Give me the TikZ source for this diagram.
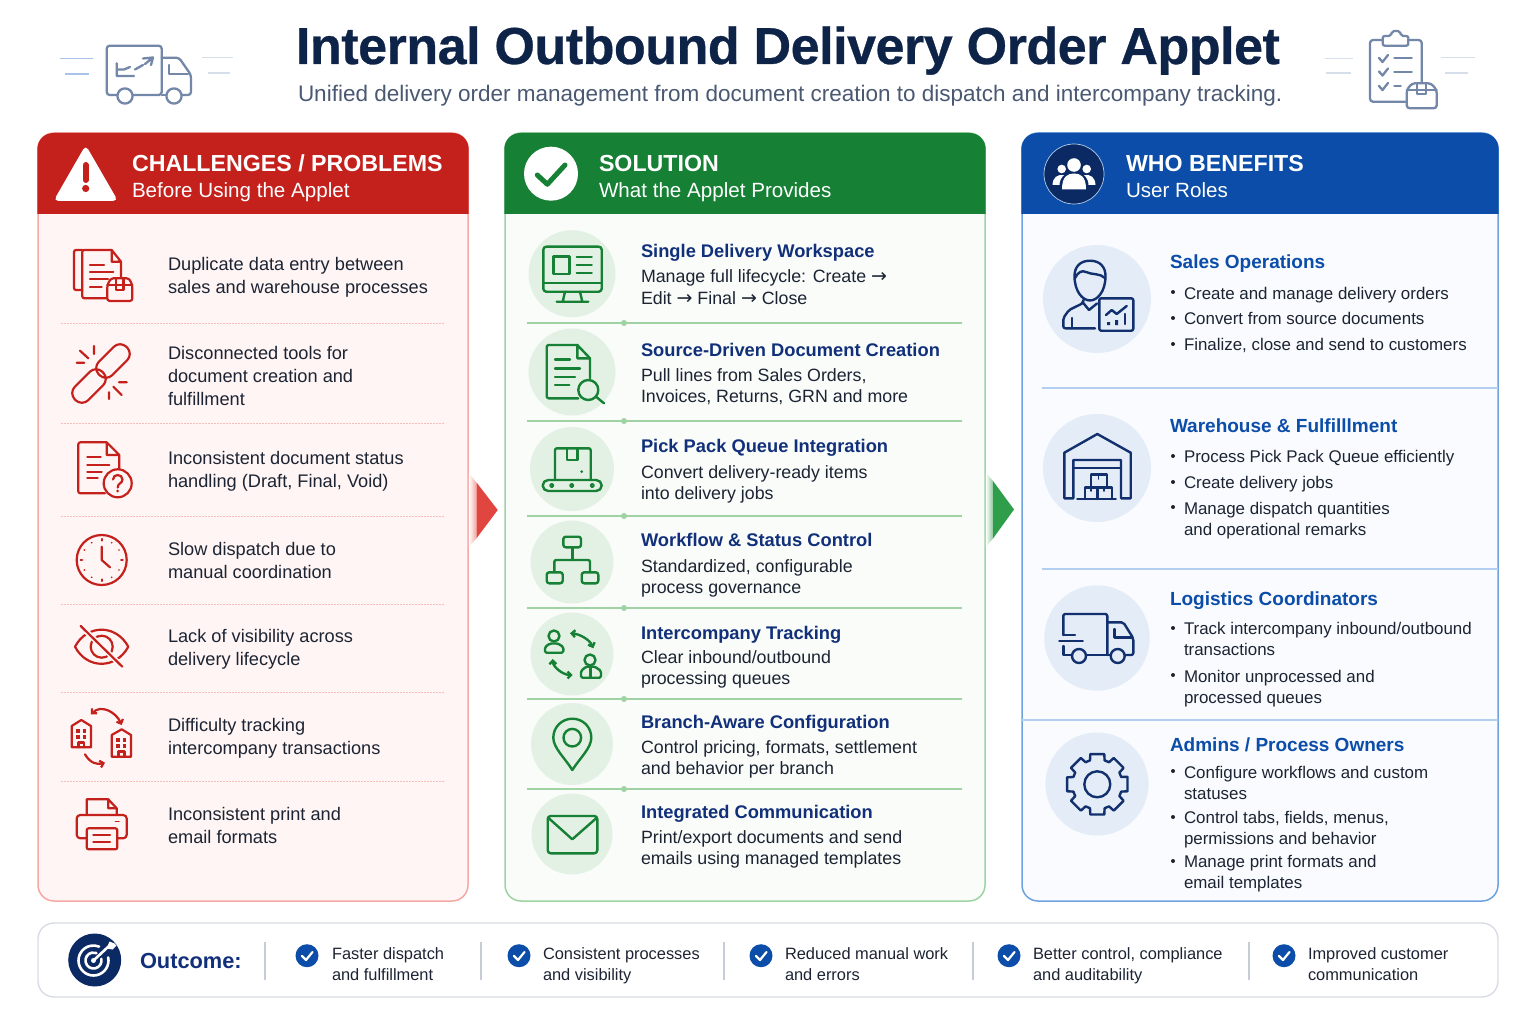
\documentclass[tikz,border=0pt]{standalone}
\usepackage{fontspec}
\setmainfont{Liberation Sans}
\newfontfamily\titlef[LetterSpace=-0.9,BoldFeatures={FakeBold=0.6}]{Liberation Sans}
\newfontfamily\arrowf{DejaVu Sans}
\usetikzlibrary{arrows.meta,calc}
\definecolor{cred}{HTML}{C4201C}
\definecolor{credfill}{HTML}{FFF5F4}
\definecolor{credline}{HTML}{F4A9A5}
\definecolor{credrule}{HTML}{F5BDB9}
\definecolor{cgreen}{HTML}{168035}
\definecolor{cgreenfill}{HTML}{F9FCF9}
\definecolor{cgreenline}{HTML}{9FD3A4}
\definecolor{cgreencirc}{HTML}{E3F1E4}
\definecolor{cblue}{HTML}{0B4DA8}
\definecolor{cbluefill}{HTML}{F9FBFE}
\definecolor{cblueline}{HTML}{6FA3E0}
\definecolor{cbluerule}{HTML}{B3CEF0}
\definecolor{cbluecirc}{HTML}{E3ECF7}
\definecolor{cnavy}{HTML}{0E2348}
\definecolor{cnavyicon}{HTML}{12306E}
\definecolor{cnavycirc}{HTML}{0B2A63}
\definecolor{chead}{HTML}{12307A}
\definecolor{cbody}{HTML}{1C2433}
\definecolor{csub}{HTML}{4A5872}
\definecolor{cgrayicon}{HTML}{7387A8}
\definecolor{cpale}{HTML}{D6DEEA}
\definecolor{cpaleblue}{HTML}{A9C4E8}
\definecolor{cbar}{HTML}{D8DCE4}
\definecolor{csep}{HTML}{C7CDD8}
\definecolor{cfadered}{HTML}{F2A09B}
\definecolor{cfadegreen}{HTML}{8CC69A}
\definecolor{cmainred}{HTML}{E0453F}
\definecolor{cmaingreen}{HTML}{2E9E4A}
\newcommand\fsz[2]{\fontsize{#1}{#2}\selectfont}
\newcommand\putxt[5]{\node[#1] (#2) at (#3,{#4-24}) {\rule{0pt}{24pt}#5};}
\newcommand\arw{{\arrowf\fontsize{19}{19}\selectfont →}}
\tikzset{
  tx/.style={anchor=north west,inner sep=0pt,outer sep=0pt,align=left},
  titlet/.style={anchor=base west,inner sep=0pt,outer sep=0pt,text=cnavy,font=\titlef\fontsize{52}{58}\selectfont\bfseries},
  subt/.style={anchor=base west,inner sep=0pt,outer sep=0pt,text=csub,font=\fsz{22.5}{27}},
  hdbig/.style={tx,text=white,font=\fontsize{23.2}{28}\selectfont\bfseries},
  hdsub/.style={tx,text=white,font=\fsz{20.6}{25}},
  lbody/.style={tx,text=cbody,font=\fsz{18.2}{23}},
  mhead/.style={tx,text=chead,font=\fontsize{18.3}{23}\selectfont\bfseries},
  mbody/.style={tx,text=cbody,font=\fsz{17.8}{21.5}},
  rhead/.style={tx,text=cblue,font=\fontsize{19}{24}\selectfont\bfseries},
  rbody/.style={tx,text=cbody,font=\fsz{16.9}{21}},
  obody/.style={tx,text=cbody,font=\fsz{16.4}{21.5}},
  ohead/.style={tx,text=chead,font=\fontsize{21.8}{26}\selectfont\bfseries},
  ric/.style={draw=cred,line width=2.2pt,line cap=round,line join=round},
  gic/.style={draw=cgreen,line width=2.4pt,line cap=round,line join=round},
  bic/.style={draw=cnavyicon,line width=2.4pt,line cap=round,line join=round},
  gyic/.style={draw=cgrayicon,line width=2.3pt,line cap=round,line join=round},
  redrule/.style={draw=credrule,line width=1pt,dash pattern=on 2pt off 1pt},
  greenrule/.style={draw=cgreenline,line width=1.1pt},
  bluerule/.style={draw=cbluerule,line width=1.2pt},
  greendot/.style={fill=cgreenline},
  gcirc/.style={fill=cgreencirc},
  bcirc/.style={fill=cbluecirc},
  barb/.style={-{Straight Barb[length=3.5pt,width=7pt]}},
  dbarb/.style={{Straight Barb[length=3.5pt,width=7pt]}-{Straight Barb[length=3.5pt,width=7pt]}},
  bull/.style={fill=cbody},
  sepl/.style={draw=csep,line width=1.4pt},
  ocheck/.style={fill=cblue},
  ochk/.style={draw=white,line width=2.2pt,line cap=round,line join=round}
}
\begin{document}
\begin{tikzpicture}[x=1pt,y=-1pt]
\useasboundingbox (0,0) rectangle (1536,1024);
\fill[white] (0,0) rectangle (1536,1024);

% ---------- title
\node[titlet] (title) at (296,64) {Internal Outbound Delivery Order Applet};
\node[subt] (subtitle) at (298,102) {Unified delivery order management from document creation to dispatch and intercompany tracking.};

% truck top left
\draw[draw=cpaleblue,line width=1.6pt] (60,58.7) -- (92.7,58.7) (64.7,74) -- (89.3,74);
\draw[draw=cpale,line width=1.6pt] (201.7,57.7) -- (232.7,57.7) (207.7,73) -- (230,73);
\draw[gyic,rounded corners=3pt] (117,95) -- (106.7,95) -- (106.7,45.7) -- (161.7,45.7) -- (161.7,95) -- (133,95);
\draw[gyic,rounded corners=3pt] (161.7,57.7) -- (179,57.7) -- (191,75) -- (191,95) -- (182,95);
\draw[gyic] (161.7,95) -- (166,95);
\draw[gyic] (125,96) circle[radius=7.6] (174,96) circle[radius=7.6];
\draw[gyic] (169.3,65) -- (169.3,74) -- (188,74);
\draw[gyic] (116.7,63.3) -- (116.7,76) -- (134,76) (116.7,69.5) -- (124,69.5) -- (130,67);
\draw[gyic] (135,69.5) -- (143,65) (143,58.5) -- (153,57.5) -- (151,65) (153,57.5) -- (145,64);

% clipboard top right
\draw[draw=cpale,line width=1.6pt] (1325,58.7) -- (1352.7,58.7) (1326,73.3) -- (1351,73.3) (1440.7,57.7) -- (1474.7,57.7) (1445,73.3) -- (1467.7,73.3);
\draw[gyic,rounded corners=3pt] (1382.7,40) -- (1370,40) -- (1370,101.7) -- (1406,101.7);
\draw[gyic,rounded corners=3pt] (1408.3,40) -- (1421.7,40) -- (1421.7,83);
\draw[gyic,rounded corners=2pt] (1382.7,45.7) -- (1382.7,36) -- (1391,36) -- (1392,31) -- (1400,31) -- (1401,36) -- (1408.3,36) -- (1408.3,45.7) -- cycle;
\draw[gyic] (1379,58) -- (1382.5,62) -- (1388,55) (1379,71.5) -- (1382.5,75.5) -- (1388,68.5) (1379,86) -- (1382.5,90) -- (1388,83);
\draw[gyic] (1394.3,58.3) -- (1411.7,58.3) (1394.3,71.7) -- (1411.7,71.7) (1394.3,86) -- (1400.7,86);
\draw[gyic,fill=white,rounded corners=3pt] (1406.7,90) -- (1412,83.3) -- (1431,83.3) -- (1436.7,90) -- (1436.7,108.3) -- (1406.7,108.3) -- cycle;
\draw[gyic] (1406.7,90) -- (1436.7,90) (1417,84) -- (1417,94) -- (1426,94) -- (1426,84);

% ---------- panels
\draw[draw=credline,fill=credfill,line width=1.5pt,rounded corners=16pt] (38,133) rectangle (468,901);
\fill[cred,rounded corners=16pt] (37.3,214) |- (253,133) -| (468.7,214);
\draw[draw=cgreenline,fill=cgreenfill,line width=1.5pt,rounded corners=16pt] (505,133) rectangle (985,901);
\fill[cgreen,rounded corners=16pt] (504.3,214) |- (745,133) -| (985.7,214);
\draw[draw=cblueline,fill=cbluefill,line width=1.5pt,rounded corners=16pt] (1022,133) rectangle (1498,901);
\fill[cblue,rounded corners=16pt] (1021.3,214) |- (1260,133) -| (1498.7,214);

% arrows between panels
\shade[left color=white,right color=cfadered] (468.8,473) -- (476.7,483) -- (476.7,538) -- (468.8,547) -- cycle;
\fill[cmainred] (476.7,482.7) -- (497.7,510) -- (476.7,538) -- cycle;
\shade[left color=white,right color=cfadegreen] (985.8,472.7) -- (993,481) -- (993,538.5) -- (985.8,547) -- cycle;
\fill[cmaingreen] (993,481) -- (1014,509.5) -- (993,538.5) -- cycle;

% ---------- header icons + text
\fill[white,rounded corners=5pt] (85.7,145) -- (118,201) -- (53.5,201) -- cycle;
\draw[cred,line width=6pt,line cap=round] (85.7,165) -- (85.7,180);
\fill[cred] (85.7,188.5) circle[radius=3.6];
\putxt{hdbig}{h1a}{132}{172}{CHALLENGES / PROBLEMS}
\putxt{hdsub}{h1b}{132}{198}{Before Using the Applet}

\fill[white] (551,173.7) circle[radius=27];
\draw[cgreen,line width=5pt,line cap=round,line join=round] (537.3,175) -- (547.3,184.3) -- (565,165);
\putxt{hdbig}{h2a}{599}{172}{SOLUTION}
\putxt{hdsub}{h2b}{599}{198}{What the Applet Provides}

\draw[draw=cbluerule,fill=cnavycirc,line width=.7pt] (1074,174) circle[radius=30];
\fill[white] (1074,165) circle[radius=6.8] (1061.7,169) circle[radius=4.3] (1086.7,169) circle[radius=4.3];
\fill[white] (1062,189.3) .. controls (1062,176) and (1068,173.5) .. (1074,173.5) .. controls (1080,173.5) and (1086,176) .. (1086,189.3) -- cycle;
\fill[white] (1052.5,185) .. controls (1053,177) and (1057,174.5) .. (1064,175) .. controls (1061,178) and (1059.5,181) .. (1059.5,185) -- cycle;
\fill[white] (1095.5,185) .. controls (1095,177) and (1091,174.5) .. (1084,175) .. controls (1087,178) and (1088.5,181) .. (1088.5,185) -- cycle;
\putxt{hdbig}{h3a}{1126}{172}{WHO BENEFITS}
\putxt{hdsub}{h3b}{1126}{198}{User Roles}

% ---------- left panel
\foreach \yy in {323,423,516,604.7,692,781} \draw[redrule] (61,\yy) -- (445,\yy);
\putxt{lbody}{l1}{168}{271}{Duplicate data entry between\\sales and warehouse processes}
\putxt{lbody}{l2}{168}{359}{Disconnected tools for\\document creation and\\fulfillment}
\putxt{lbody}{l3}{168}{464}{Inconsistent document status\\handling (Draft, Final, Void)}
\putxt{lbody}{l4}{168}{555}{Slow dispatch due to\\manual coordination}
\putxt{lbody}{l5}{168}{642}{Lack of visibility across\\delivery lifecycle}
\putxt{lbody}{l6}{168}{731}{Difficulty tracking\\intercompany transactions}
\putxt{lbody}{l7}{168}{820}{Inconsistent print and\\email formats}

% icon 1 docs + box
\draw[ric,rounded corners=2pt] (82.3,250) -- (74,250) -- (74,290) -- (82.3,290);
\draw[ric,rounded corners=2pt] (106.7,298.3) -- (82.3,298.3) -- (82.3,250) -- (111.7,250);
\draw[ric] (111.7,250) -- (121,261.7) -- (121,277) (111.7,250) -- (111.7,261.7) -- (121,261.7);
\draw[ric] (90,265) -- (104,265) (90,271.7) -- (113.3,271.7) (90,279.3) -- (108,279.3) (90,286.7) -- (101.7,286.7);
\draw[ric,fill=credfill,rounded corners=2.5pt] (107.3,285) -- (111,278.3) -- (129,278.3) -- (132.3,285) -- (132.3,301) -- (107.3,301) -- cycle;
\draw[ric] (107.3,285) -- (132.3,285) (116,279) -- (116,290) -- (123.5,290) -- (123.5,279);
% icon 2 broken link
\draw[ric,rotate around={45:(113,361)},rounded corners=9pt] (93.5,351.5) rectangle (132.5,370.5);
\draw[ric,rotate around={45:(89,386)},rounded corners=9pt] (69.5,376.5) rectangle (108.5,395.5);
\draw[ric] (94,346) -- (94,354) (80,350.7) -- (88.3,358.3) (76.7,362.7) -- (84.3,362.7);
\draw[ric] (119,382.3) -- (126.7,382.3) (113.3,386.7) -- (121.7,395) (109,392.3) -- (109,399);
% icon 3 doc with question
\draw[ric,rounded corners=2pt] (105,493.3) -- (78.3,493.3) -- (78.3,442.3) -- (106.7,442.3);
\draw[ric] (106.7,442.3) -- (119.3,455) -- (119.3,468.3) (106.7,442.3) -- (106.7,455) -- (119.3,455);
\draw[ric] (87.3,457.3) -- (100.7,457.3) (87.3,465) -- (109.3,465) (87.3,472.3) -- (101.7,472.3) (87.3,477.7) -- (97.7,477.7);
\draw[ric,fill=credfill] (117.7,483.3) circle[radius=14];
\draw[ric] (113,479.5) .. controls (113,473.5) and (122.5,473.5) .. (122.5,479.5) .. controls (122.5,483.5) and (117.7,483) .. (117.7,487.5);
\fill[cred] (117.7,491) circle[radius=1.5];
% icon 4 clock
\draw[ric] (101.7,560) circle[radius=25];
\draw[ric] (101.7,546.7) -- (101.7,560) -- (110,567.3);
\foreach \a in {0,90,180,270} \draw[ric] ($(101.7,560)+(\a:19.5)$) -- ($(101.7,560)+(\a:21)$);
\foreach \a in {30,60,120,150,210,240,300,330} \fill[cred] ($(101.7,560)+(\a:20)$) circle[radius=.9];
% icon 5 eye
\draw[ric] (75,646.7) .. controls (87,624) and (116,624) .. (128.3,646.7) .. controls (116,669.5) and (87,669.5) .. (75,646.7) -- cycle;
\draw[ric] (101.7,646.7) circle[radius=11];
\draw[credfill,line width=5.5pt] (80.7,626) -- (122.3,666.7);
\draw[ric] (80.7,626) -- (122.3,666.7);
% icon 6 buildings
\draw[ric] (71.7,747.3) -- (71.7,726) -- (81.3,720) -- (91,726) -- (91,747.3) -- cycle;
\draw[ric] (111.7,756.7) -- (111.7,735) -- (121.7,729.3) -- (131,735) -- (131,756.7) -- cycle;
\foreach \bx/\by in {78/731,84.5/731,78/737,84.5/737,118/740,124.5/740,118/746,124.5/746} \fill[cred] (\bx-1.6,\by-1.6) rectangle ++(3.2,3.2);
\draw[ric] (78.5,747.3) -- (78.5,742.5) -- (84,742.5) -- (84,747.3) (118.5,756.7) -- (118.5,751.5) -- (124.5,751.5) -- (124.5,756.7);
\draw[ric,dbarb] (91,714.5) .. controls (101,704) and (116,712) .. (121.7,725);
\draw[ric,barb] (85,754.3) .. controls (90,763) and (97,765) .. (105,762.7);
% icon 7 printer
\draw[ric,rounded corners=3.5pt] (86.7,838.3) -- (76.7,838.3) -- (76.7,815) -- (126.7,815) -- (126.7,838.3) -- (117.3,838.3);
\draw[ric] (86.7,815) -- (86.7,799.3) -- (108.3,799.3) -- (116.7,808.3) -- (116.7,815) (108.3,799.3) -- (108.3,808.3) -- (116.7,808.3);
\draw[ric,rounded corners=2pt] (86.7,828.3) rectangle (117.3,849.3);
\draw[ric] (93.3,835) -- (110,835) (93.3,841.7) -- (110,841.7);
\draw[ric,line width=1.6pt] (115.5,821.3) -- (119,821.3);

% ---------- middle panel
\foreach \yy in {323,421,516,608,699,789} {\draw[greenrule] (527,\yy) -- (962,\yy); \fill[greendot] (624,\yy) circle[radius=3];}
\foreach \yy/\rr in {273.7/43.5,372/43.5,469/42,562/41.5,654/41.5,744/41,834/40.5} \fill[gcirc] (572,\yy) circle[radius=\rr];
\putxt{mhead}{m1}{641}{258}{Single Delivery Workspace}
\putxt{mbody}{m1b}{641}{283}{Manage full lifecycle: Create \arw\\Edit \arw{} Final \arw{} Close}
\putxt{mhead}{m2}{641}{356}{Source-Driven Document Creation}
\putxt{mbody}{m2b}{641}{381}{Pull lines from Sales Orders,\\Invoices, Returns, GRN and more}
\putxt{mhead}{m3}{641}{452}{Pick Pack Queue Integration}
\putxt{mbody}{m3b}{641}{478}{Convert delivery-ready items\\into delivery jobs}
\putxt{mhead}{m4}{641}{546}{Workflow \& Status Control}
\putxt{mbody}{m4b}{641}{572}{Standardized, configurable\\process governance}
\putxt{mhead}{m5}{641}{639}{Intercompany Tracking}
\putxt{mbody}{m5b}{641}{663}{Clear inbound/outbound\\processing queues}
\putxt{mhead}{m6}{641}{728}{Branch-Aware Configuration}
\putxt{mbody}{m6b}{641}{753}{Control pricing, formats, settlement\\and behavior per branch}
\putxt{mhead}{m7}{641}{818}{Integrated Communication}
\putxt{mbody}{m7b}{641}{843}{Print/export documents and send\\emails using managed templates}

% monitor
\draw[gic,rounded corners=3pt] (543.3,246.7) rectangle (601.7,291.7);
\draw[gic] (543.3,283.3) -- (601.7,283.3);
\draw[gic] (565,291.7) -- (562.7,301.7) (580,291.7) -- (582.3,301.7) (556.7,301.7) -- (588.3,301.7);
\draw[gic] (553.3,256.7) rectangle (569.3,274);
\draw[gic] (576.7,257.3) -- (591.7,257.3) (576.7,265) -- (591.7,265) (576.7,273.3) -- (591.7,273.3);
% doc search
\draw[gic,rounded corners=2pt] (578.3,398.3) -- (546.7,398.3) -- (546.7,345) -- (577.3,345);
\draw[gic] (577.3,345) -- (590,358.3) -- (590,378.3) (577.3,345) -- (577.3,358.3) -- (590,358.3);
\draw[gic] (555,359.3) -- (570,359.3) (555,368.3) -- (580,368.3) (555,376.7) -- (575,376.7) (555,385) -- (569.3,385);
\draw[gic,fill=cgreencirc] (588.3,390) circle[radius=10];
\draw[gic] (596,396.7) -- (604,403.3);
% conveyor
\draw[gic,rounded corners=2pt] (555,480) -- (555,448.3) -- (590.7,448.3) -- (590.7,480);
\draw[gic] (566.7,448.3) -- (566.7,460) -- (577.3,460) -- (577.3,448.3);
\fill[cgreen] (581.7,471.7) circle[radius=1.5];
\draw[gic,rounded corners=5.5pt] (542.7,480) rectangle (601.7,491);
\draw[gic,line width=1.8pt] (551.7,485.5) circle[radius=1.8] (571.7,485.5) circle[radius=1.8] (592.3,485.5) circle[radius=1.8];
% hierarchy
\draw[gic,rounded corners=2.5pt] (563.3,536.7) rectangle (581,547.3);
\draw[gic,rounded corners=2.5pt] (546.7,572.3) rectangle (562.7,583.3);
\draw[gic,rounded corners=2.5pt] (581.7,572.3) rectangle (598.3,583.3);
\draw[gic] (572.3,547.3) -- (572.3,560);
\draw[gic,rounded corners=2pt] (554.3,572) -- (554.3,560) -- (590,560) -- (590,572);
% intercompany
\draw[gic] (554,636) circle[radius=5.5] (590,660) circle[radius=5.5];
\draw[gic,rounded corners=1.5pt] (545,652.7) -- (545,647) -- (550,643.5) -- (558,643.5) -- (563.3,647) -- (563.3,652.7) -- cycle;
\draw[gic,rounded corners=1.5pt] (581,677.7) -- (581,671) -- (586,666.7) -- (595,666.7) -- (601,671) -- (601,677.7) -- cycle;
\draw[gic] (590.5,667) -- (590.5,677.7);
\draw[gic,dbarb] (570,633.3) .. controls (580,634) and (590,640) .. (593.3,648.3);
\draw[gic,dbarb] (552.7,659) .. controls (553,667) and (563,675) .. (572.7,675);
% pin
\draw[gic] (572.3,770) .. controls (565,758) and (553.3,748) .. (553.3,737.7) .. controls (553.3,727) and (562,718.7) .. (572.3,718.7) .. controls (583,718.7) and (591.3,727) .. (591.3,737.7) .. controls (591.3,748) and (580,758) .. (572.3,770) -- cycle;
\draw[gic] (572.3,737.7) circle[radius=8.8];
% mail
\draw[gic,rounded corners=3pt] (547.7,816) rectangle (597.3,853.3);
\draw[gic] (548.5,818) -- (572.3,839.3) -- (596.5,818);

% ---------- right panel
\draw[bluerule] (1042,388) -- (1498,388) (1042,569) -- (1498,569);
\draw[bluerule] (1022,720) -- (1498,720);
\fill[bcirc] (1097,299) circle[radius=54] (1097,468) circle[radius=54] (1097,638) circle[radius=52.7] (1097,784) circle[radius=51.5];
\foreach \yy in {292,318,344,456,482,507,628,675,771,817,861} \fill[bull] (1173,\yy) circle[radius=2];
\putxt{rhead}{r1}{1170}{269}{Sales Operations}
\putxt{rbody}{r1a}{1184}{299}{Create and manage delivery orders}
\putxt{rbody}{r1b}{1184}{324}{Convert from source documents}
\putxt{rbody}{r1c}{1184}{350}{Finalize, close and send to customers}
\putxt{rhead}{r2}{1170}{432}{Warehouse \& Fulfilllment}
\putxt{rbody}{r2a}{1184}{462}{Process Pick Pack Queue efficiently}
\putxt{rbody}{r2b}{1184}{488}{Create delivery jobs}
\putxt{rbody}{r2c}{1184}{514}{Manage dispatch quantities\\and operational remarks}
\putxt{rhead}{r3}{1170}{605}{Logistics Coordinators}
\putxt{rbody}{r3a}{1184}{634}{Track intercompany inbound/outbound\\transactions}
\putxt{rbody}{r3b}{1184}{682}{Monitor unprocessed and\\processed queues}
\putxt{rhead}{r4}{1170}{751}{Admins / Process Owners}
\putxt{rbody}{r4a}{1184}{778}{Configure workflows and custom\\statuses}
\putxt{rbody}{r4b}{1184}{823}{Control tabs, fields, menus,\\permissions and behavior}
\putxt{rbody}{r4c}{1184}{867}{Manage print formats and\\email templates}

% person with chart
\draw[bic] (1090,260.7) .. controls (1080,260.7) and (1074.5,267) .. (1074.5,276) .. controls (1074.5,292) and (1083,300.5) .. (1090,300.5) .. controls (1097,300.5) and (1105.5,292) .. (1105.5,276) .. controls (1105.5,267) and (1100,260.7) .. (1090,260.7) -- cycle;
\draw[bic] (1075,278) .. controls (1078,272) and (1082,270) .. (1086,272) .. controls (1092,275) and (1100,273) .. (1105,278);
\draw[bic,rounded corners=2pt] (1083.3,300) -- (1083.3,303) -- (1069,310) -- (1063.3,318) -- (1063.3,328.3) -- (1095,328.3);
\draw[bic] (1083.3,303) -- (1089,310) -- (1097,303.5);
\draw[bic] (1072,318) -- (1072,328.3);
\draw[bic,fill=cbluecirc,rounded corners=2pt] (1099.3,298.3) rectangle (1133.3,330.7);
\draw[bic] (1106,315) -- (1111.7,310) -- (1116.7,314) -- (1126.7,306);
\draw[bic] (1125,314) -- (1125,324);
\fill[cnavyicon] (1107,322) rectangle ++(3,3) (1115,320) rectangle ++(3,5);
% warehouse
\draw[bic] (1064.3,498.3) -- (1064.3,452.7) -- (1097.3,434) -- (1130.7,452.7) -- (1130.7,498.3) -- (1121,498.3) -- (1121,460) -- (1073.3,460) -- (1073.3,498.3) -- cycle;
\draw[bic] (1073.3,467.7) -- (1121,467.7);
\draw[bic] (1085,499) -- (1085,487.3) -- (1111.7,487.3) -- (1111.7,499) (1097.3,487.3) -- (1097.3,499);
\draw[bic] (1091,487.3) -- (1091,474.3) -- (1106.7,474.3) -- (1106.7,487.3);
\draw[bic] (1077.3,499) -- (1115.7,499);
\draw[bic,line width=1.6pt] (1098.5,474.5) -- (1098.5,479) (1091,487.3) -- (1091,491) (1104,487.3) -- (1104,491);
% truck
\draw[bic,rounded corners=2pt] (1063.3,635) -- (1063.3,614) -- (1107.3,614) -- (1107.3,655);
\draw[bic] (1063.3,646) -- (1063.3,655) -- (1071,655) (1087,655) -- (1110,655);
\draw[bic,rounded corners=2pt] (1107.3,622.3) -- (1123.3,622.3) -- (1133.3,638.3) -- (1133.3,655) -- (1125,655);
\draw[bic] (1114.3,629) -- (1114.3,637.3) -- (1131.7,637.3);
\draw[bic] (1079,656) circle[radius=7] (1117.7,656) circle[radius=7];
\draw[bic] (1063.3,635) -- (1075,635) (1059.3,641) -- (1082.7,641);
% gear
\begin{scope}[shift={(1097.3,784.3)}]
\draw[bic] (-14:31) \foreach \a in {0,45,90,135,180,225,270,315} {-- (\a-13:31) -- (\a+13:31) -- (\a+17:25) -- (\a+28:25)} -- cycle;
\draw[bic] (0,0) circle[radius=13];
\end{scope}

% ---------- outcome
\draw[draw=cbar,fill=white,line width=1.4pt,rounded corners=16pt] (38,923) rectangle (1498,997);
\fill[cnavycirc] (94.7,960) circle[radius=26.5];
\begin{scope}[shift={(93.5,960.5)},line width=2.6pt,line cap=round]
\draw[white] (-12:15) arc[start angle=-12,end angle=292,radius=15];
\draw[white] (-12:8) arc[start angle=-12,end angle=292,radius=8];
\draw[white] (0,0) -- (15,-14);
\fill[white] (13,-12) -- (16,-19) -- (21,-17) -- (23,-15) -- (19,-11) -- cycle;
\fill[white] (0,0) circle[radius=2.5];
\end{scope}
\putxt{ohead}{oc}{140}{968}{Outcome:}
\foreach \xx in {265,481,724,973,1249} \draw[sepl] (\xx,942) -- (\xx,980);
\foreach \xx in {307,519,761,1009,1284} {\fill[ocheck] (\xx,955.7) circle[radius=11.5]; \draw[ochk] ({\xx-5},956) -- ({\xx-1},960) -- ({\xx+5.5},952);}
\putxt{obody}{o1}{332}{959}{Faster dispatch\\and fulfillment}
\putxt{obody}{o2}{543}{959}{Consistent processes\\and visibility}
\putxt{obody}{o3}{785}{959}{Reduced manual work\\and errors}
\putxt{obody}{o4}{1033}{959}{Better control, compliance\\and auditability}
\putxt{obody}{o5}{1308}{959}{Improved customer\\communication}
\end{tikzpicture}
\end{document}
